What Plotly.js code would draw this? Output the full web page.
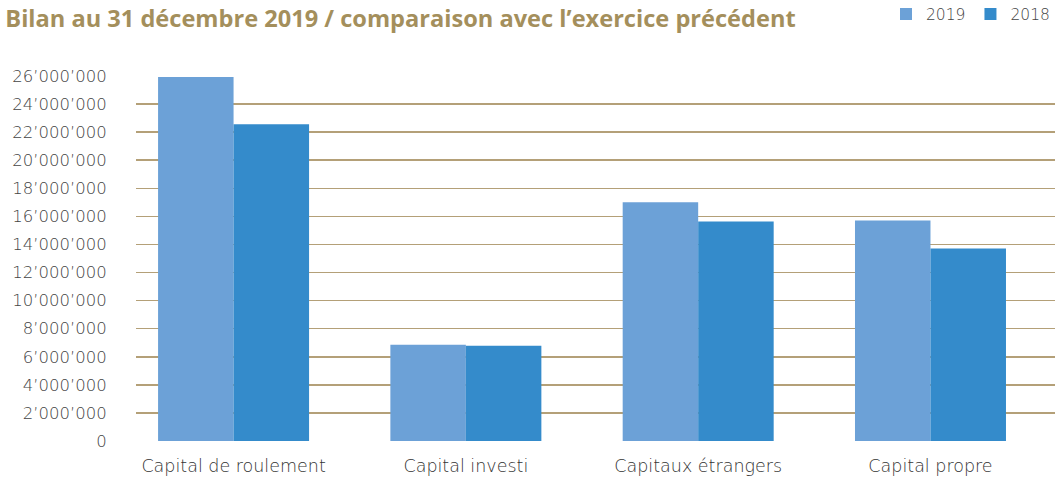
<!DOCTYPE html>
<html>
<head>
<meta charset="utf-8">
<script src="https://cdn.plot.ly/plotly-3.0.1.min.js"></script>
<style>html,body{margin:0;padding:0;background:#fff;}#chart{width:1061px;height:477px;}</style>
</head>
<body>
<div id="chart"></div>
<script>
const categories = ["Capital de roulement", "Capital investi", "Capitaux étrangers", "Capital propre"];
const values2019 = [25930000, 6860000, 17000000, 15710000];
const values2018 = [22570000, 6790000, 15640000, 13710000];
const tickValues = [0, 2000000, 4000000, 6000000, 8000000, 10000000, 12000000, 14000000, 16000000, 18000000, 20000000, 22000000, 24000000, 26000000];
const tickLabels = ["0", "2’000’000", "4’000’000", "6’000’000", "8’000’000", "10’000’000", "12’000’000", "14’000’000", "16’000’000", "18’000’000", "20’000’000", "22’000’000", "24’000’000", "26’000’000"];

const titleFont = "'Open Sans', Lato, sans-serif";
const font = "'DejaVu Sans', 'Open Sans', sans-serif";
const data = [
  {type: "bar", name: "2019", x: categories, y: values2019, marker: {color: "#6ca1d7"}, hoverinfo: "none"},
  {type: "bar", name: "2018", x: categories, y: values2018, marker: {color: "#348bcb"}, hoverinfo: "none"}
];
const layout = {
  width: 1061, height: 477,
  margin: {l: 136, r: 6, t: 76, b: 36},
  paper_bgcolor: "#fff", plot_bgcolor: "#fff",
  barmode: "group", bargap: 0.35, bargroupgap: 0,
  font: {family: font, color: "#555"},
  title: {text: "<b>Bilan au 31 décembre 2019 / comparaison avec l’exercice précédent</b>",
          x: 0.005, xanchor: "left", xref: "container", y: 0.96, yanchor: "middle", yref: "container",
          font: {family: titleFont, size: 23.6, color: "#a48f5c"}},
  showlegend: true,
  legend: {orientation: "h", x: 1, xanchor: "right", xref: "paper", y: 0.97, yanchor: "middle", yref: "container",
           font: {family: font, size: 15.5, color: "#444", weight: 300}, traceorder: "normal", itemwidth: 30},
  xaxis: {type: "category", range: [-0.42, 3.536], showgrid: false, zeroline: false, showline: false,
          ticks: "outside", ticklen: 9, tickcolor: "rgba(0,0,0,0)",
          tickfont: {family: font, size: 17.5, color: "#333", weight: 300}, fixedrange: true},
  yaxis: {range: [0, 26000000], tickvals: tickValues, ticktext: tickLabels, showgrid: true,
          gridcolor: "#b4a078", gridwidth: 1.5, zeroline: false, showline: false,
          ticks: "outside", ticklen: 25, tickcolor: "rgba(0,0,0,0)",
          tickfont: {family: font, size: 16.5, color: "#444", weight: 300}, fixedrange: true}
};
Plotly.newPlot("chart", data, layout, {displayModeBar: false, staticPlot: true});
</script>
</body>
</html>
